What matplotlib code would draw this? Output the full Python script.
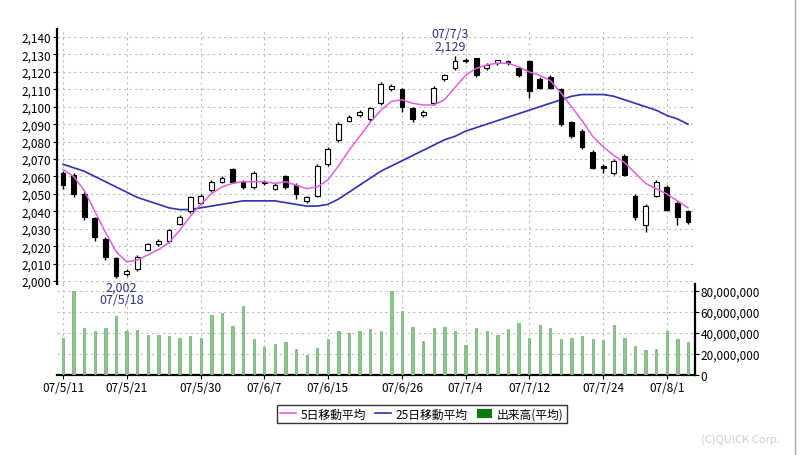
import matplotlib
matplotlib.use("Agg")
import matplotlib.pyplot as plt
from matplotlib.patches import Rectangle
from matplotlib.lines import Line2D
import numpy as np

plt.rcParams['font.family'] = ['Noto Sans CJK JP', 'DejaVu Sans']

dates = (["07/5/%d" % d for d in [11,14,15,16,17,18,21,22,23,24,25,28,29,30,31]] +
         ["07/6/%d" % d for d in [1,4,5,6,7,8,11,12,13,14,15,18,19,20,21,22,25,26,27,28,29]] +
         ["07/7/%d" % d for d in [2,3,4,5,6,9,10,11,12,13,17,18,19,20,23,24,25,26,27,30,31]] +
         ["07/8/%d" % d for d in [1,2,3]])
opens  = [2062,2061,2050,2036,2024,2013,2004,2007,2018,2021,2023,2033,2040,2045,2052,2057,2064,2057,2054,2056,2053,2060,2055,2046,2049,2067,2081,2092,2095,2093,
          2102,2110,2110,2099,2095,2102,2116,2122,2126,2128,2122,2125,2126,2122,2126,2116,2117,2110,2091,2086,2074,2066,2062,2072,2049,2032,2049,2054,2045,2040]
closes = [2055,2050,2037,2025,2014,2003,2006,2014,2021,2023,2029,2037,2048,2049,2057,2059,2057,2054,2062,2057,2055,2054,2050,2048,2066,2076,2090,2094,2097,2099,
          2113,2112,2100,2093,2097,2111,2118,2126,2127,2118,2124,2127,2125,2118,2109,2111,2111,2090,2083,2077,2065,2065,2069,2061,2037,2043,2057,2041,2037,2034]
highs  = [2063,2062,2051,2037,2025,2014,2007,2015,2022,2024,2030,2038,2049,2050,2058,2060,2065,2058,2063,2058,2056,2061,2056,2049,2067,2077,2091,2095,2098,2100,
          2114,2113,2111,2100,2098,2112,2119,2129,2128,2128,2125,2127,2127,2123,2127,2117,2118,2111,2092,2087,2075,2067,2070,2073,2050,2044,2058,2055,2046,2041]
lows   = [2053,2048,2035,2023,2012,2002,2003,2006,2017,2020,2022,2032,2039,2044,2051,2056,2056,2053,2053,2055,2052,2053,2047,2045,2048,2066,2080,2091,2094,2092,
          2101,2109,2097,2091,2094,2101,2115,2121,2125,2117,2121,2124,2124,2117,2105,2110,2110,2089,2082,2076,2064,2062,2061,2060,2035,2028,2048,2040,2032,2033]
ma5  = [2064,2060,2052,2040,2028,2017,2011,2012,2015,2018,2022,2029,2037,2044,2050,2054,2056,2057,2057,2057,2056,2057,2055,2053,2054,2058,2066,2075,2083,2091,
        2098,2103,2104,2102,2101,2101,2104,2111,2118,2122,2124,2125,2125,2123,2120,2118,2115,2108,2100,2092,2083,2077,2072,2068,2062,2056,2053,2050,2046,2042]
ma25 = [2067,2065,2063,2060,2057,2054,2051,2048,2046,2044,2042,2041,2041,2042,2043,2044,2045,2046,2046,2046,2046,2045,2044,2043,2043,2044,2047,2051,2055,2059,
        2063,2066,2069,2072,2075,2078,2081,2083,2086,2088,2090,2092,2094,2096,2098,2100,2102,2104,2106,2107,2107,2107,2106,2104,2102,2100,2098,2095,2093,2090]
volume_m = [35,80,45,42,45,56,42,43,38,38,37,35,37,35,57,59,47,66,34,27,30,31,25,19,26,34,42,40,42,44,42,80,
            61,46,32,45,46,42,29,45,42,38,44,50,35,48,45,34,35,37,34,33,48,35,28,24,25,42,34,31]
tick_labels = ["07/5/11","07/5/21","07/5/30","07/6/7","07/6/15","07/6/26","07/7/4","07/7/12","07/7/24","07/8/1"]
price_ticks = list(range(2000, 2141, 10))
vol_ticks = [0, 20, 40, 60, 80]

x = np.arange(len(dates))
tick_pos = [dates.index(t) for t in tick_labels]

fig = plt.figure(figsize=(8, 4.56), dpi=100)
W, H = 800, 456
axv = fig.add_axes([57/W, (H-376)/H, 638/W, 91/H])
ax = fig.add_axes([57/W, (H-285)/H, 638/W, 255/H])
ax.patch.set_visible(False)

grid_kw = dict(color='#bbbbbb', linestyle=(0, (2, 3)), linewidth=0.8)
for a in (ax, axv):
    a.set_xlim(-0.57, 59.66)
    for t in tick_pos:
        a.axvline(t, zorder=0, **grid_kw)
    a.tick_params(length=3, width=0.8, labelsize=8.5, pad=1)

ax.set_ylim(1998.3, 2144.6)
for p in price_ticks:
    ax.axhline(p, zorder=0, **grid_kw)
ax.set_yticks(price_ticks)
ax.set_yticklabels([f"{p:,}" for p in price_ticks])
ax.set_xticks([])
for s in ['top', 'right', 'bottom']:
    ax.spines[s].set_visible(False)
ax.spines['left'].set_linewidth(1.6)

w = 0.45
for i in x:
    o, c, h, l = opens[i], closes[i], highs[i], lows[i]
    ax.vlines(i, l, h, color='black', linewidth=1, zorder=3)
    fc = 'white' if c >= o else 'black'
    ax.add_patch(Rectangle((i - w/2, min(o, c)), w, max(abs(c - o), 0.6),
                           facecolor=fc, edgecolor='black', linewidth=0.8, zorder=4))
ax.plot(x, ma5, color='#e060e0', linewidth=1.1, zorder=5)
ax.plot(x, ma25, color='#3030b0', linewidth=1.2, zorder=2)

imax = int(np.argmax(highs)); imin = int(np.argmin(lows))
ax.text(imax - 0.5, highs[imax] + 2, f"{dates[imax]}\n{highs[imax]:,}", color='#303080',
        ha='center', va='bottom', fontsize=9, linespacing=1.0, clip_on=False)
ax.text(imin + 0.5, lows[imin] - 1.5, f"{lows[imin]:,}\n{dates[imin]}", color='#303080',
        ha='center', va='top', fontsize=9, linespacing=1.0, zorder=6, clip_on=False)

axv.set_ylim(0, 86.7)
for v in vol_ticks[1:]:
    axv.axhline(v, zorder=0, **grid_kw)
axv.bar(x, volume_m, width=0.22, color='#8cc88c', edgecolor='#5a9a5a', linewidth=0.4, zorder=3)
axv.yaxis.tick_right()
axv.set_yticks(vol_ticks)
axv.set_yticklabels([f"{v*1000000:,}" for v in vol_ticks])
axv.set_xticks(tick_pos)
axv.set_xticklabels(tick_labels)
for s in ['top', 'left']:
    axv.spines[s].set_visible(False)
axv.spines['right'].set_linewidth(1.6)
axv.spines['bottom'].set_linewidth(1.6)

handles = [Line2D([], [], color='#e060e0', linewidth=1.2),
           Line2D([], [], color='#3030b0', linewidth=1.2),
           Rectangle((0, 0), 1, 1, facecolor='#0a7a0a')]
leg = fig.legend(handles, ['5日移動平均', '25日移動平均', '出来高(平均)'], loc='center',
                 bbox_to_anchor=(422/W, 1 - 415/H), ncol=3, fontsize=8.5, frameon=True,
                 fancybox=False, edgecolor='black', handlelength=1.3, handletextpad=0.4,
                 columnspacing=0.8, borderpad=0.25)
leg.get_frame().set_linewidth(1.0)
fig.text(780/W, 1 - 440/H, '(C)QUICK Corp.', color='#cccccc', fontsize=8, ha='right', va='center')
fig.add_artist(Line2D([795/W, 795/W], [0, 1], color='#aaaaaa', linewidth=1))
fig.savefig('out.png', dpi=100)
